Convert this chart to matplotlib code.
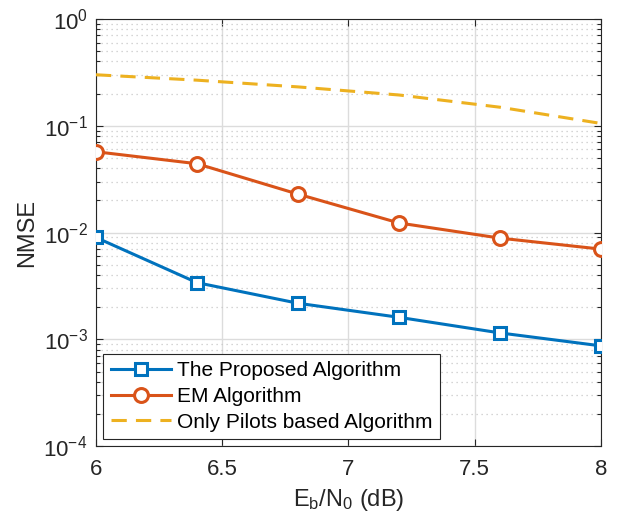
import numpy as np
import matplotlib.pyplot as plt
from matplotlib.ticker import LogLocator, NullFormatter

plt.rcParams['font.family'] = ['Liberation Sans', 'DejaVu Sans']
plt.rcParams['mathtext.fontset'] = 'custom'
plt.rcParams['mathtext.rm'] = 'Liberation Sans'
plt.rcParams['mathtext.it'] = 'Liberation Sans'

# Eb/N0 (dB)
ebn0 = [6.0, 6.4, 6.8, 7.2, 7.6, 8.0]

nmse_proposed = [0.0090, 0.0034, 0.00218, 0.00161, 0.00115, 0.00087]
nmse_em = [0.0571, 0.0441, 0.0229, 0.0123, 0.00887, 0.0070]
nmse_pilots = [0.30, 0.267, 0.231, 0.194, 0.149, 0.105]

labels = ['The Proposed Algorithm', 'EM Algorithm', 'Only Pilots based Algorithm']

fig = plt.figure(figsize=(6.19, 5.25), dpi=100)
ax = fig.add_axes([0.155, 0.150, 0.816, 0.814])

ax.semilogy(ebn0, nmse_proposed, '-s', color='#0072BD', lw=2.2, ms=8,
            mfc='white', mew=2.2, label=labels[0], zorder=4)
ax.semilogy(ebn0, nmse_em, '-o', color='#D95319', lw=2.2, ms=10,
            mfc='white', mew=2.2, label=labels[1], zorder=4)
ax.semilogy(ebn0, nmse_pilots, '--', color='#EDB120', lw=2.2,
            dashes=(5, 3), label=labels[2], zorder=3)

ax.set_xlim(6, 8)
ax.set_ylim(1e-4, 1)
ax.set_xticks([6, 6.5, 7, 7.5, 8])
ax.set_xticklabels(['6', '6.5', '7', '7.5', '8'])
ax.yaxis.set_major_locator(LogLocator(base=10, numticks=10))
ax.yaxis.set_minor_locator(LogLocator(base=10, subs=np.arange(2, 10), numticks=20))
ax.yaxis.set_minor_formatter(NullFormatter())

ax.grid(True, which='major', color='#dcdcdc', lw=1.0, ls='-')
ax.grid(True, which='minor', axis='y', color='#c8c8c8', lw=0.9, ls=(0, (1, 3)))
ax.tick_params(which='both', direction='in', top=True, right=True,
               labelsize=16, colors='#262626', width=0.8)
ax.tick_params(which='major', length=5)
ax.tick_params(which='minor', length=3)
ax.tick_params(axis='x', pad=9)
ax.tick_params(axis='y', pad=6)
for s in ax.spines.values():
    s.set_color('#262626')
    s.set_linewidth(0.8)

ax.set_xlabel(r'E$_{\mathrm{b}}$/N$_{\mathrm{0}}$ (dB)', fontsize=17, color='#262626', labelpad=5)
ax.set_ylabel('NMSE', fontsize=17, color='#262626', labelpad=4)

leg = ax.legend(loc='lower left', fontsize=15, frameon=True, fancybox=False,
                edgecolor='#262626', framealpha=1, borderaxespad=0.35,
                handlelength=2.9, borderpad=0.35, labelspacing=0.32, handletextpad=0.3)
leg.get_frame().set_linewidth(0.8)

plt.savefig('out.png', dpi=100)
